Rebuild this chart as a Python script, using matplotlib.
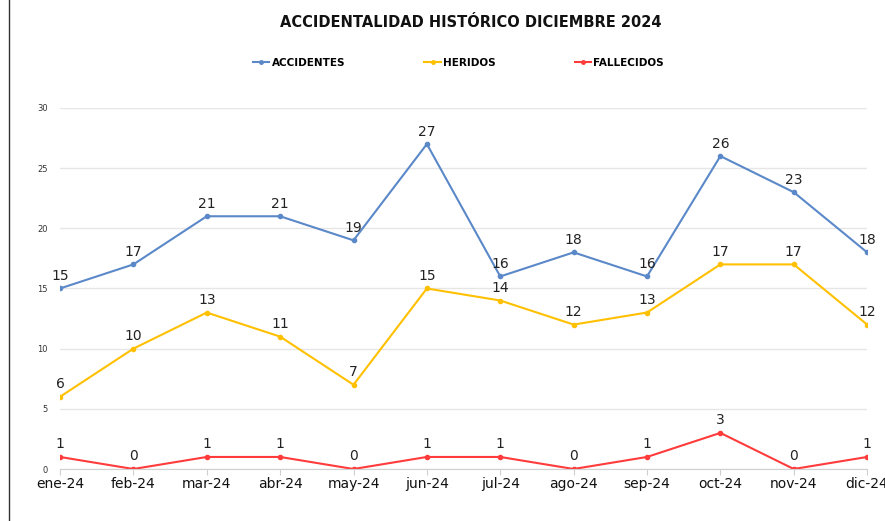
import matplotlib.pyplot as plt
from matplotlib.lines import Line2D

months = ["ene-24", "feb-24", "mar-24", "abr-24", "may-24", "jun-24",
          "jul-24", "ago-24", "sep-24", "oct-24", "nov-24", "dic-24"]
accidentes = [15, 17, 21, 21, 19, 27, 16, 18, 16, 26, 23, 18]
heridos = [6, 10, 13, 11, 7, 15, 14, 12, 13, 17, 17, 12]
fallecidos = [1, 0, 1, 1, 0, 1, 1, 0, 1, 3, 0, 1]
y_ticks = [0, 5, 10, 15, 20, 25, 30]

series = [
    ("ACCIDENTES", accidentes, "#5A88C8"),
    ("HERIDOS", heridos, "#FFC000"),
    ("FALLECIDOS", fallecidos, "#FF3B3B"),
]

fig = plt.figure(figsize=(8.85, 5.21), dpi=100)
ax = fig.add_axes([0.0678, 0.0998, 0.912, 0.693])

x = list(range(len(months)))
for name, vals, color in series:
    ax.plot(x, vals, color=color, lw=1.5, marker="o", ms=3, label=name)
    for xi, v in zip(x, vals):
        ax.annotate(str(v), (xi, v), xytext=(0, 4), textcoords="offset points",
                    ha="center", va="bottom", fontsize=10, color="#222222")

ax.set_xlim(0, len(months) - 1)
ax.set_ylim(0, 30)
ax.set_yticks(y_ticks)
ax.set_yticklabels([str(t) for t in y_ticks], fontsize=6, color="#333333")
ax.set_xticks(x)
ax.set_xticklabels(months, fontsize=10, color="#111111")
ax.tick_params(axis="y", length=0, pad=9)
ax.tick_params(axis="x", length=4, color="#d0d0d0", pad=2)
ax.grid(axis="y", color="#e6e6e6", lw=1)
ax.set_axisbelow(True)
for side in ["top", "right", "left"]:
    ax.spines[side].set_visible(False)
ax.spines["bottom"].set_color("#d0d0d0")

fig.text(0.532, 0.957, "ACCIDENTALIDAD HISTÓRICO DICIEMBRE 2024", ha="center",
         va="center", fontsize=10.5, fontweight="bold", color="#111111")

handles = [Line2D([0], [0], color=c, lw=1.5, marker="o", ms=2.5) for _, _, c in series]
leg = fig.legend(handles, [s[0] for s in series], loc="center", bbox_to_anchor=(0.518, 0.879),
                 ncol=3, frameon=False, fontsize=7.5, columnspacing=7.6, handlelength=1.6,
                 handletextpad=0.2)
for t in leg.get_texts():
    t.set_fontweight("bold")

# left border line of the original screenshot
fig.add_artist(Line2D([0.0102, 0.0102], [0, 1], color="#333333", lw=1, transform=fig.transFigure))

fig.savefig("out.png", dpi=100)
